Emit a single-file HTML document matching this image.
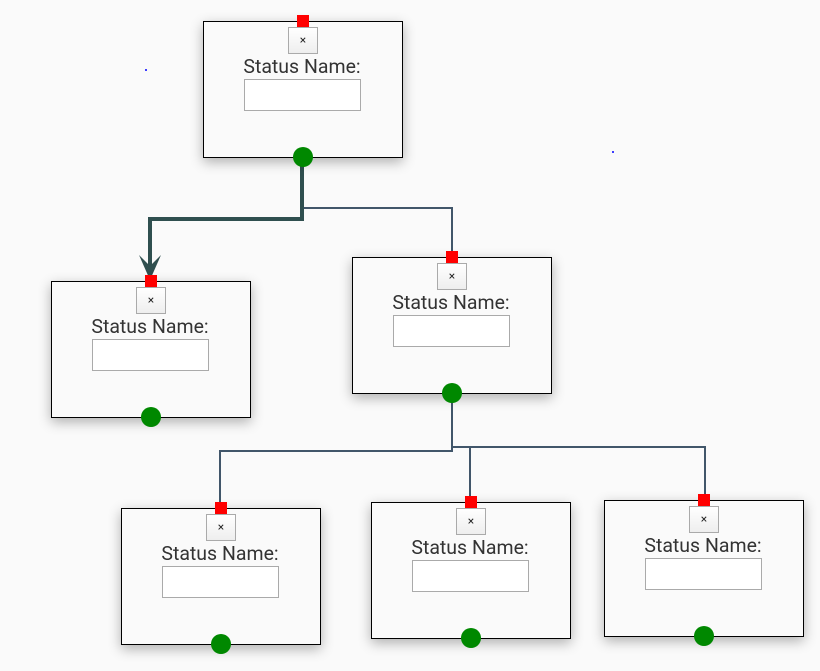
<!DOCTYPE html>
<html><head><style>
body{margin:0;width:820px;height:671px;background:#fafafa;position:relative;overflow:hidden;font-family:Roboto,"Liberation Sans",sans-serif}
.n{position:absolute;width:198px;height:135px;border:1px solid #000;background:#fafafa;box-shadow:0 4px 12px rgba(0,0,0,.3)}
.n .r{position:absolute;left:93px;top:-7px;width:12px;height:12px;background:#f00}
.n .b{position:absolute;left:84px;top:5px;width:28px;height:25px;border:1px solid #aaa;background:linear-gradient(#fff,#eee);font-size:12px;text-align:center;line-height:25px;color:#222}
.n .t{position:absolute;left:-1px;width:198px;top:33px;text-align:center;font-size:19.5px;color:#333}
.n .i{position:absolute;left:40px;top:57px;width:115px;height:30px;border:1px solid #aaa;background:#fff}
.n .g{position:absolute;left:89px;top:125px;width:20px;height:20px;border-radius:50%;background:#080}
</style></head><body>
<svg width="820" height="671" style="position:absolute;left:0;top:0">
<g fill="none" stroke="#41566a" stroke-width="2">
<path d="M302 208H452V257"/>
<path d="M452 395V447H705V500"/>
<path d="M452 447V451H220V508"/>
<path d="M470 447V502"/>
</g>
<path d="M302 160V219H150V274" fill="none" stroke="#2f4f4f" stroke-width="4"/>
<path d="M139 255L150 280L161 255L150 266Z" fill="#2f4f4f"/>
<circle cx="146" cy="70" r="1" fill="#00f"/><circle cx="613" cy="152" r="1" fill="#00f"/>
</svg>
<div class="n" style="left:203px;top:21px"><div class="r"></div><div class="b">×</div><div class="t">Status Name:</div><div class="i"></div><div class="g"></div></div>
<div class="n" style="left:51px;top:281px"><div class="r"></div><div class="b">×</div><div class="t">Status Name:</div><div class="i"></div><div class="g"></div></div>
<div class="n" style="left:352px;top:257px"><div class="r"></div><div class="b">×</div><div class="t">Status Name:</div><div class="i"></div><div class="g"></div></div>
<div class="n" style="left:121px;top:508px"><div class="r"></div><div class="b">×</div><div class="t">Status Name:</div><div class="i"></div><div class="g"></div></div>
<div class="n" style="left:371px;top:502px"><div class="r"></div><div class="b">×</div><div class="t">Status Name:</div><div class="i"></div><div class="g"></div></div>
<div class="n" style="left:604px;top:500px"><div class="r"></div><div class="b">×</div><div class="t">Status Name:</div><div class="i"></div><div class="g"></div></div>
</body></html>
